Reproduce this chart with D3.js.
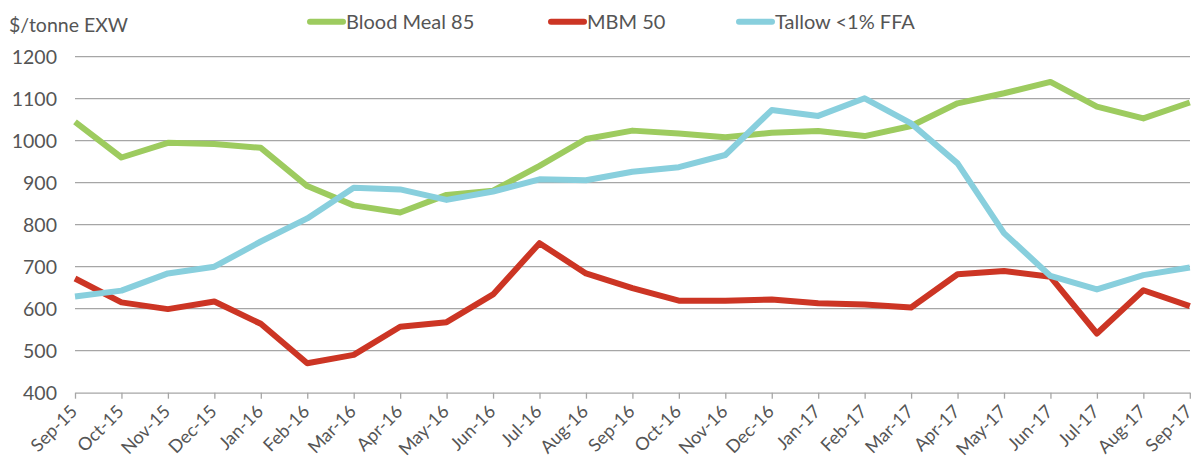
<!DOCTYPE html>
<html><head><meta charset="utf-8">
<script src="https://cdn.jsdelivr.net/npm/d3@7"></script>
<style>
html,body{margin:0;padding:0;background:#fff;}
text{font-family:Lato,"Open Sans",sans-serif;fill:#555;}
</style></head>
<body>
<svg id="chart" width="1196" height="459"></svg>
<script>
const months = ["Sep-15","Oct-15","Nov-15","Dec-15","Jan-16","Feb-16","Mar-16","Apr-16","May-16","Jun-16","Jul-16","Aug-16","Sep-16","Oct-16","Nov-16","Dec-16","Jan-17","Feb-17","Mar-17","Apr-17","May-17","Jun-17","Jul-17","Aug-17","Sep-17"];
const bloodMeal = [1045,960,995,992,983,892,846,829,871,881,940,1004,1024,1017,1008,1019,1023,1011,1035,1089,1113,1140,1081,1053,1091];
const mbm50 = [672,615,599,617,564,470,490,557,568,634,756,684,649,619,619,622,613,610,603,682,690,676,541,644,606];
const tallow = [629,643,684,700,760,815,888,884,859,879,908,906,926,937,966,1073,1059,1101,1041,946,780,678,646,680,698];
const yTicks = [400,500,600,700,800,900,1000,1100,1200];
const seriesNames = ["Blood Meal 85","MBM 50","Tallow <1% FFA"];
const colors = ["#9dcb5f","#cc3524","#88cfdd"];

const svg = d3.select("#chart");
const x = d3.scalePoint().domain(months).range([75, 1189.8]);
const y = d3.scaleLinear().domain([400,1200]).range([392.7, 56.7]);

// gridlines
svg.append("g").selectAll("line").data(yTicks.slice(1)).join("line")
  .attr("x1",75).attr("x2",1190).attr("y1",d=>y(d)).attr("y2",d=>y(d))
  .attr("stroke","#a6a6a6").attr("stroke-width",1.3);

// y axis labels
svg.append("g").selectAll("text").data(yTicks).join("text")
  .attr("x",57).attr("y",d=>y(d)).attr("dy","0.35em").attr("text-anchor","end")
  .style("font-size","19.5px").text(d=>d);

// x axis
const xAxis = d3.axisBottom(x).tickSize(6).tickSizeOuter(0);
const gx = svg.append("g").attr("transform","translate(0,392.7)").call(xAxis);
gx.select(".domain").attr("stroke","#a6a6a6").attr("stroke-width",1.3);
gx.selectAll(".tick line").attr("stroke","#a6a6a6").attr("stroke-width",1.3);
gx.selectAll(".tick text")
  .attr("y",0).attr("dy",0).attr("x",0)
  .attr("text-anchor","end")
  .attr("transform","translate(3,20) rotate(-45)")
  .style("font-size","18px").style("fill","#555")
  .style("font-family","Lato,'Open Sans',sans-serif");

// lines
const line = d3.line().x((d,i)=>x(months[i])).y(d=>y(d));
[bloodMeal, mbm50, tallow].forEach((s,i)=>{
  svg.append("path").datum(s).attr("d",line).attr("fill","none")
    .attr("stroke",colors[i]).attr("stroke-width",6).attr("stroke-linejoin","round");
});

// y label
svg.append("text").attr("x",9).attr("y",31.5).style("font-size","19.5px").text("$/tonne EXW");

// legend
const legX = [307, 548, 736];
seriesNames.forEach((n,i)=>{
  svg.append("line").attr("x1",legX[i]+3).attr("x2",legX[i]+36).attr("y1",21.7).attr("y2",21.7)
    .attr("stroke",colors[i]).attr("stroke-width",6).attr("stroke-linecap","round");
  svg.append("text").attr("x",legX[i]+39).attr("y",28.5).style("font-size","20px").text(n);
});
</script>
</body></html>
